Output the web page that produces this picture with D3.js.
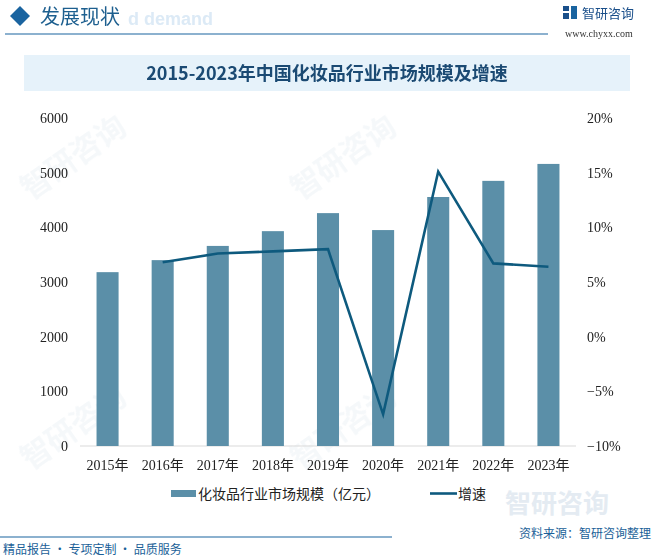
<!DOCTYPE html>
<html><head><meta charset="utf-8">
<script src="https://cdn.jsdelivr.net/npm/d3@7"></script>
<style>body{margin:0;background:#fff}svg{display:block}</style>
</head><body>
<script>
const years = ["2015年","2016年","2017年","2018年","2019年","2020年","2021年","2022年","2023年"];
const marketSize = [3180, 3400, 3660, 3930, 4260, 3950, 4555, 4850, 5160];
const growth = [null, 6.8, 7.6, 7.8, 8.0, -7.1, 15.1, 6.7, 6.4];
const leftTicks = [0,1000,2000,3000,4000,5000,6000];
const rightTicks = [-10,-5,0,5,10,15,20];

const W=654,H=559;
const svg=d3.select("body").append("svg").attr("width",W).attr("height",H);
const cjk='"Noto Sans CJK SC","Noto Sans",sans-serif';
const serif='"Liberation Serif","Noto Sans CJK SC",serif';

// watermarks
const wm=svg.append("g").attr("opacity",0.045).attr("fill","#1d5f8f");
[[30,200],[300,200],[30,470],[300,470]].forEach(([x,y])=>{
  wm.append("text").attr("x",x).attr("y",y).attr("transform",`rotate(-35,${x},${y})`)
    .attr("font-family",cjk).attr("font-size",30).attr("font-weight","bold").text("智研咨询");
});

// header
svg.append("path").attr("d","M10,16 L20,6 L30,16 L20,26 Z").attr("fill","#1a64a0");
svg.append("text").attr("x",128).attr("y",25).attr("font-family","Liberation Sans,sans-serif").attr("font-weight","bold")
  .attr("font-size",18).attr("fill","#dceaf6").text("d demand");
svg.append("text").attr("x",40).attr("y",24).attr("font-family",cjk).attr("font-size",20)
  .attr("fill","#1d5f8f").text("发展现状");
svg.append("line").attr("x1",5).attr("x2",548).attr("y1",34).attr("y2",34).attr("stroke","#1a64a0").attr("stroke-width",1.2);
// logo
const lg=svg.append("g");
lg.append("rect").attr("x",563).attr("y",6).attr("width",6).attr("height",5).attr("fill","#1a4f8a");
lg.append("rect").attr("x",563).attr("y",13).attr("width",6).attr("height",6).attr("fill","#1a4f8a");
lg.append("rect").attr("x",571).attr("y",6).attr("width",6).attr("height",13).attr("fill","#1a64a0");
svg.append("text").attr("x",582).attr("y",18).attr("font-family",cjk).attr("font-size",13).attr("fill","#1a4f8a").text("智研咨询");
svg.append("text").attr("x",565).attr("y",37).attr("font-family",serif).attr("font-size",10).attr("fill","#333").text("www.chyxx.com");

// title
svg.append("rect").attr("x",24).attr("y",55).attr("width",606).attr("height",36).attr("fill","#e6f2fa");
svg.append("text").attr("x",327).attr("y",80).attr("text-anchor","middle").attr("font-family",cjk)
  .attr("font-weight","bold").attr("font-size",18).attr("fill","#1b4a73").text("2015-2023年中国化妆品行业市场规模及增速");

// chart
const x=d3.scaleBand().domain(years).range([80,576]).paddingInner(0.6).paddingOuter(0.3);
const yL=d3.scaleLinear().domain([0,6000]).range([446,118]);
const yR=d3.scaleLinear().domain([-10,20]).range([446,118]);

svg.append("line").attr("x1",80).attr("x2",576).attr("y1",446).attr("y2",446).attr("stroke","#d9d9d9");

svg.append("g").selectAll("rect").data(marketSize).join("rect")
  .attr("x",(d,i)=>x(years[i])).attr("width",x.bandwidth())
  .attr("y",d=>yL(d)).attr("height",d=>yL(0)-yL(d)).attr("fill","#5b8fa8");

const pts=growth.map((g,i)=>[x(years[i])+x.bandwidth()/2,g]).filter(d=>d[1]!==null);
svg.append("path").attr("d",d3.line().x(d=>d[0]).y(d=>yR(d[1]))(pts))
  .attr("fill","none").attr("stroke","#0e5a7e").attr("stroke-width",2.6).attr("stroke-linejoin","miter");

const axL=svg.append("g").attr("transform","translate(68,0)")
  .call(d3.axisLeft(yL).tickValues(leftTicks).tickSize(0).tickPadding(0).tickFormat(d3.format("d")));
axL.select(".domain").remove();
axL.selectAll("text").attr("font-family",serif).attr("font-size",14).attr("fill","#222");

const axR=svg.append("g").attr("transform","translate(587,0)")
  .call(d3.axisRight(yR).tickValues(rightTicks).tickSize(0).tickPadding(0).tickFormat(d=>(d<0?"−":"")+Math.abs(d)+"%"));
axR.select(".domain").remove();
axR.selectAll("text").attr("font-family",serif).attr("font-size",14).attr("fill","#222");

const axB=svg.append("g").attr("transform","translate(0,446)")
  .call(d3.axisBottom(x).tickSize(0).tickPadding(14));
axB.select(".domain").remove();
axB.selectAll("text").attr("font-family",serif).attr("font-size",14).attr("fill","#222");

// legend
svg.append("rect").attr("x",171).attr("y",490).attr("width",25).attr("height",7).attr("fill","#5b8fa8");
svg.append("text").attr("x",198).attr("y",499).attr("font-family",cjk).attr("font-size",14).attr("fill","#222").text("化妆品行业市场规模（亿元）");
svg.append("line").attr("x1",430).attr("x2",457).attr("y1",493.5).attr("y2",493.5).attr("stroke","#0e5a7e").attr("stroke-width",2.6);
svg.append("text").attr("x",458).attr("y",499).attr("font-family",cjk).attr("font-size",14).attr("fill","#222").text("增速");

// footer
svg.append("text").attr("x",505).attr("y",513).attr("font-family",cjk).attr("font-size",26).attr("font-weight","bold").attr("fill","#e4ebf2").text("智研咨询");
svg.append("line").attr("x1",0).attr("x2",392).attr("y1",537).attr("y2",537).attr("stroke","#1a64a0").attr("stroke-width",1.2);
svg.append("text").attr("x",651).attr("y",538).attr("text-anchor","end").attr("font-family",cjk).attr("font-size",12).attr("fill","#1a5f98").text("资料来源：智研咨询整理");
svg.append("text").attr("x",3).attr("y",554).attr("font-family",cjk).attr("font-size",12).attr("fill","#1a5f98").text("精品报告 · 专项定制 · 品质服务");
</script>
</body></html>
